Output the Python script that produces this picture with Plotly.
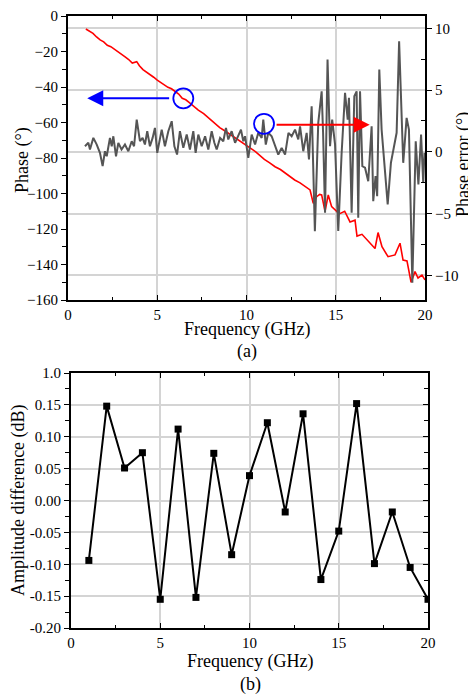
import plotly.graph_objects as go

# (a) phase of the red curve
red_freq = [1.0, 1.2, 1.4, 1.6, 1.8, 2.0, 2.2, 2.4, 2.6, 2.8, 3.0, 3.2, 3.4, 3.6, 3.85, 4.0,
            4.2, 4.4, 4.6, 4.8, 5.0, 5.2, 5.4, 5.6, 5.8, 6.0, 6.2, 6.4, 6.6, 6.8, 7.0, 7.3,
            7.6, 7.9, 8.2, 8.5, 8.8, 9.0, 9.3, 9.6, 10.0, 10.3, 10.5, 10.8, 11.0, 11.3, 11.6,
            11.9, 12.2, 12.5, 12.7, 13.0, 13.3, 13.56, 13.74, 13.93, 14.1, 14.21, 14.4, 14.58,
            14.77, 15.0, 15.2, 15.5, 15.8, 16.08, 16.19, 16.47, 16.81, 17.2, 17.37, 17.59,
            17.93, 18.32, 18.6, 18.77, 18.99, 19.22, 19.44, 19.61, 19.83, 20.0]
red_phase = [-7.3, -8.5, -9.8, -11.8, -13.5, -14.6, -16.5, -17.3, -18.6, -20.4, -21.5, -23.0,
             -24.5, -26.5, -25.7, -28.0, -30.2, -31.5, -33.2, -34.5, -36.1, -37.5, -38.7,
             -40.2, -41.0, -42.6, -44.0, -46.4, -47.2, -48.8, -50.5, -53.0, -55.0, -57.8,
             -60.4, -62.9, -64.8, -66.1, -68.0, -70.3, -72.7, -75.0, -76.4, -79.2, -80.8,
             -82.7, -84.9, -86.5, -88.8, -90.8, -92.4, -94.0, -96.3, -98.0, -105.5, -101.8,
             -100.5, -100.8, -110.0, -100.8, -107.4, -109.5, -111.5, -110.0, -116.0, -115.0,
             -124.0, -123.0, -127.0, -131.0, -122.0, -130.0, -135.6, -134.6, -128.0, -137.5,
             -138.0, -150.0, -144.0, -147.6, -146.0, -148.7]

# (a) phase error, grey curve (right axis)
err_freq = [0.95, 1.14, 1.23, 1.42, 1.61, 1.79, 1.94, 2.07, 2.17, 2.35, 2.45, 2.54, 2.69, 2.82,
            3.0, 3.19, 3.38, 3.57, 3.7, 3.85, 4.03, 4.18, 4.31, 4.44, 4.59, 4.74, 4.87, 5.0,
            5.25, 5.43, 5.62, 5.81, 5.96, 6.11, 6.27, 6.46, 6.65, 6.83, 7.02, 7.15, 7.3, 7.49,
            7.68, 7.86, 8.05, 8.2, 8.33, 8.52, 8.7, 8.85, 8.98, 9.17, 9.36, 9.54, 9.69, 9.82,
            9.92, 10.1, 10.29, 10.48, 10.66, 10.85, 10.94, 11.08, 11.22, 11.41, 11.6, 11.78,
            11.97, 12.16, 12.35, 12.53, 12.72, 12.9, 13.0, 13.18, 13.37, 13.5, 13.65, 13.83,
            14.02, 14.21, 14.29, 14.4, 14.54, 14.68, 14.8, 14.96, 15.14, 15.33, 15.52, 15.67,
            15.74, 15.89, 16.04, 16.17, 16.26, 16.36, 16.49, 16.64, 16.82, 17.01, 17.1, 17.23,
            17.32, 17.44, 17.57, 17.72, 17.91, 18.09, 18.28, 18.41, 18.55, 18.78, 18.97, 19.1,
            19.29, 19.48, 19.63, 19.78, 19.9, 19.97]
err_val = [0.45, 0.73, 0.19, 1.13, 0.59, -0.08, -1.16, 0.05, -0.36, 1.13, 0.45, 1.26, -0.36,
           0.73, 0.19, 0.59, 0.05, 0.86, 0.45, 2.61, 0.86, 1.13, 0.59, 1.67, 0.45, 1.13, 1.94,
           -0.08, 1.8, 0.45, 1.67, 2.48, 0.45, -0.22, 1.67, 0.32, 1.4, 0.19, 1.67, -0.08, 1.4,
           0.45, 1.26, 0.19, 1.67, 0.73, 0.19, 1.13, 0.86, 1.94, 1.0, 1.67, 0.73, 1.4, 1.8,
           0.86, 1.26, -0.49, 1.4, 0.59, 1.54, 1.13, 2.61, 0.59, 1.54, 1.26, 0.45, -0.22, 0.32,
           -0.22, 1.54, 1.26, 1.8, 1.0, 2.07, 0.05, 1.54, -0.62, 3.69, -6.42, 2.35, 4.9, 1.54,
           -4.94, 7.47, 0.45, 2.61, 0.6, -6.4, -0.08, 4.77, 2.61, 4.37, -4.94, 4.5, 4.9, -5.34,
           4.9, -1.17, -1.29, -2.38, 2.07, -4.0, -1.97, -3.59, 6.66, 1.8, -1.17, -4.26, -0.89,
           0.45, 1.54, 8.95, -0.89, 2.75, 1.8, -10.6, 0.86, -2.65, 1.4, -2.51, -0.08]

# (b) amplitude difference
amp_freq = list(range(1, 21))
amp_diff = [-0.094, 0.148, 0.051, 0.075, -0.155, 0.112, -0.152, 0.074, -0.085, 0.039,
            0.122, -0.018, 0.136, -0.124, -0.048, 0.152, -0.099, -0.018, -0.105, -0.155]

amp_ticks = [-0.20, -0.15, -0.10, -0.05, 0.00, 0.05, 0.10, 0.15, 0.20]
amp_ticktext = ["-0.20", "-0.15", "-0.10", "-0.05", "0.00", "0.05", "0.10", "0.15", "1.0"]

# page body has an 8px margin, so the figure is a bit smaller than the window
OFF = 8
W, H = 476 - OFF, 695 - OFF
FONT = "Times New Roman, Liberation Serif, DejaVu Serif, serif"
GRID = "#d4d4d4"


def px_x(x):
    return (x - OFF) / W


def px_y(y):
    return 1 - (y - OFF) / H


fig = go.Figure()
fig.add_trace(go.Scatter(x=red_freq, y=red_phase, mode="lines",
                         line=dict(color="#ff0000", width=1.6), xaxis="x", yaxis="y"))
fig.add_trace(go.Scatter(x=err_freq, y=err_val, mode="lines",
                         line=dict(color="#555555", width=2), xaxis="x", yaxis="y2"))
fig.add_trace(go.Scatter(x=amp_freq, y=amp_diff, mode="lines+markers",
                         line=dict(color="black", width=2),
                         marker=dict(symbol="square", size=7, color="black"),
                         xaxis="x2", yaxis="y3"))
fig.add_trace(go.Scatter(x=[None], y=[None], xaxis="x2", yaxis="y4", showlegend=False))

common = dict(showline=True, linecolor="black", linewidth=2, zeroline=False,
              tickfont=dict(family=FONT, size=15, color="black"), automargin=False)

fig.update_layout(
    width=W, height=H, showlegend=False,
    margin=dict(l=0, r=0, t=0, b=0),
    paper_bgcolor="white", plot_bgcolor="white",
    font=dict(family=FONT, color="black"),
    xaxis=dict(domain=[px_x(68), px_x(425)], anchor="y", range=[0, 20],
               tickvals=[0, 5, 10, 15, 20], ticks="inside", ticklen=5, tickcolor="black",
               minor=dict(dtick=2.5, ticks="inside", ticklen=3, tickcolor="black"),
               mirror="ticks", showgrid=True, gridcolor=GRID, gridwidth=1.5, **common),
    yaxis=dict(domain=[px_y(300), px_y(16)], anchor="x", range=[-160, 0], dtick=20,
               ticks="outside", ticklen=5, tickcolor="black",
               minor=dict(dtick=10, ticks="outside", ticklen=4, tickcolor="black"),
               showgrid=False, **common),
    yaxis2=dict(overlaying="y", side="right", anchor="x", range=[-12, 11],
                tickvals=[-10, -5, 0, 5, 10], ticks="outside", ticklen=5, tickcolor="black",
                minor=dict(tickvals=[-7.5, -2.5, 2.5, 7.5], ticks="inside", ticklen=4,
                           tickcolor="black"),
                showgrid=True, gridcolor=GRID, gridwidth=1.5, **common),
    xaxis2=dict(domain=[px_x(71), px_x(428)], anchor="y3", range=[0, 20],
                tickvals=[0, 5, 10, 15, 20], ticks="inside", ticklen=5, tickcolor="black",
                minor=dict(dtick=2.5, ticks="inside", ticklen=3, tickcolor="black"),
                mirror="ticks", showgrid=True, gridcolor=GRID, gridwidth=1.5, **common),
    yaxis3=dict(domain=[px_y(628), px_y(373)], anchor="x2", range=[-0.2, 0.2],
                tickvals=amp_ticks, ticktext=amp_ticktext, ticks="outside", ticklen=5,
                tickcolor="black",
                minor=dict(dtick=0.025, ticks="outside", ticklen=4, tickcolor="black"),
                showgrid=True, gridcolor=GRID, gridwidth=1.5, **common),
    yaxis4=dict(overlaying="y3", side="right", anchor="x2", range=[-0.2, 0.2],
                tickvals=amp_ticks, ticks="inside", ticklen=5, tickcolor="black",
                showticklabels=False,
                minor=dict(dtick=0.025, ticks="inside", ticklen=4, tickcolor="black"),
                showgrid=False, **common),
)

# circles marking which curve goes with which axis
fig.add_shape(type="circle", xref="x", yref="y", xsizemode="pixel", ysizemode="pixel",
              xanchor=6.46, yanchor=-46.4, x0=-10, x1=10, y0=-10, y1=10,
              line=dict(color="#0000ff", width=1.8))
fig.add_shape(type="circle", xref="x", yref="y2", xsizemode="pixel", ysizemode="pixel",
              xanchor=10.98, yanchor=2.27, x0=-10, x1=10, y0=-10, y1=10,
              line=dict(color="#0000ff", width=1.8))

fig.add_annotation(x=1.08, y=-46.4, ax=5.75, ay=-46.4, xref="x", yref="y", axref="x", ayref="y",
                   text="", showarrow=True, arrowhead=2, arrowsize=1.6, arrowwidth=2,
                   arrowcolor="#0000ff")
fig.add_annotation(x=16.9, y=2.2, ax=11.6, ay=2.2, xref="x", yref="y2", axref="x", ayref="y2",
                   text="", showarrow=True, arrowhead=2, arrowsize=1.6, arrowwidth=2,
                   arrowcolor="#ff0000")

labels = [
    ("Phase (°)", 22, 160, -90),
    ("Phase error (°)", 463, 165, -90),
    ("Frequency (GHz)", 247, 329, 0),
    ("(a)", 247, 351, 0),
    ("Amplitude difference (dB)", 18, 500, -90),
    ("Frequency (GHz)", 250, 661, 0),
    ("(b)", 250, 684, 0),
]
for txt, px, py, ang in labels:
    fig.add_annotation(x=px_x(px), y=px_y(py), xref="paper", yref="paper", text=txt,
                       showarrow=False, textangle=ang, xanchor="center", yanchor="middle",
                       font=dict(family=FONT, size=18, color="black"))

fig.write_html("out.html")
